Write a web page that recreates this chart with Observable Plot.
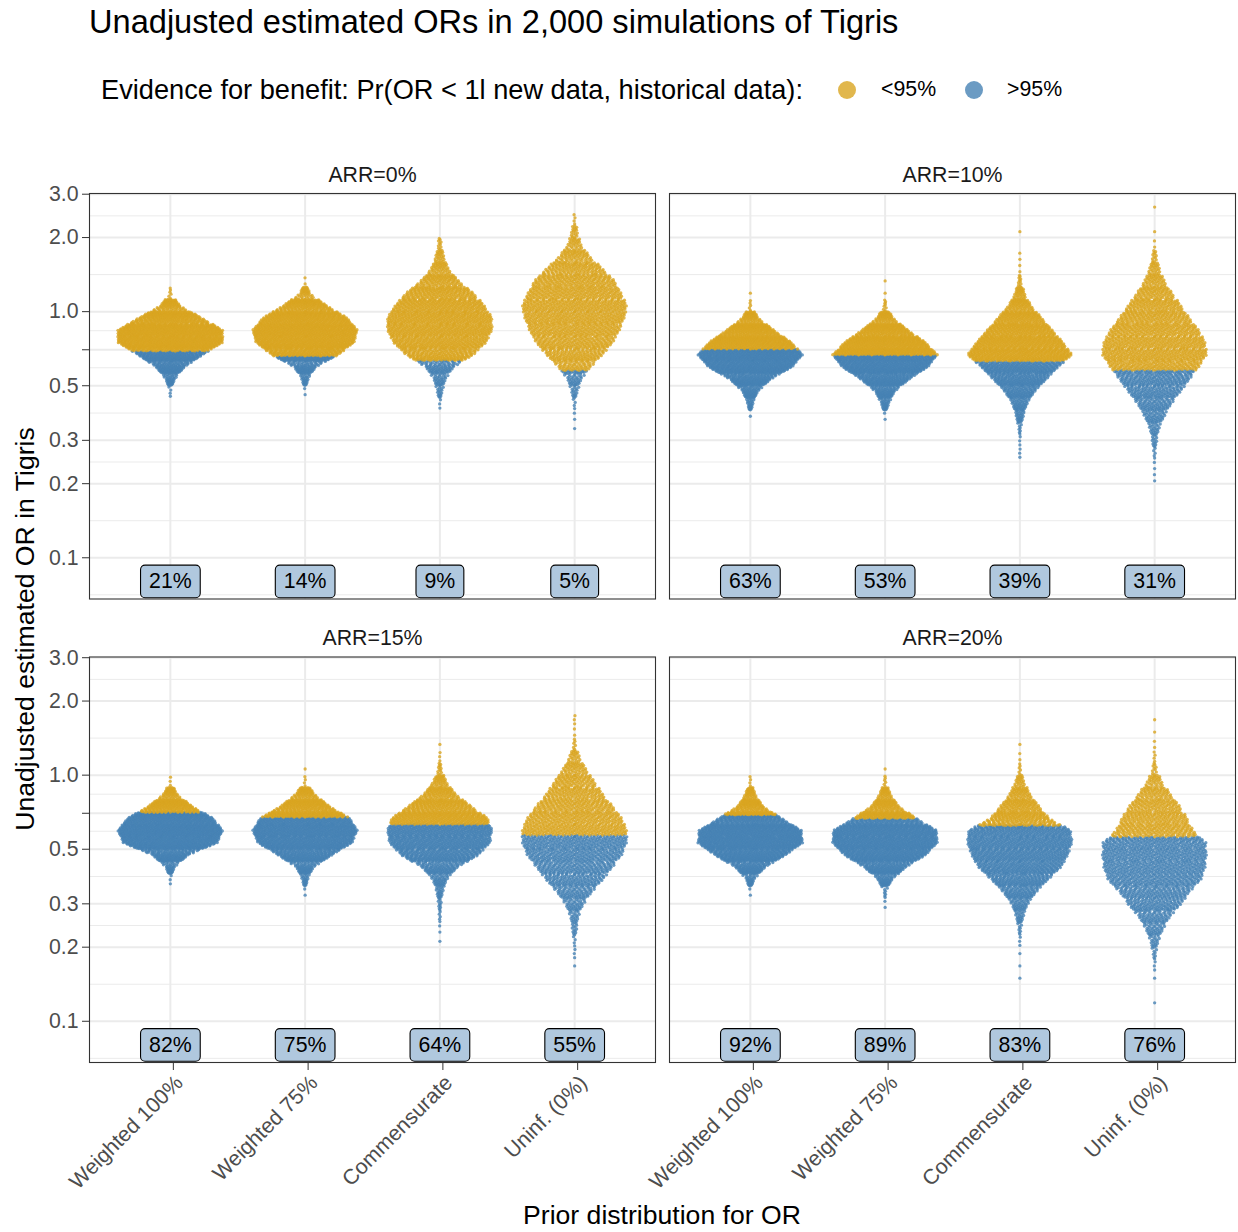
<!DOCTYPE html>
<html>
<head>
<meta charset="utf-8">
<script src="https://cdn.jsdelivr.net/npm/d3@7"></script>
<script src="https://cdn.jsdelivr.net/npm/@observablehq/plot@0.6"></script>
<style>
  body { margin: 0; background: #fff; font-family: 'Liberation Sans', Arial, Helvetica, sans-serif; }
  #header { position: relative; width: 1238px; height: 130px; }
  .t { position: absolute; white-space: nowrap; line-height: 1; color: #000; }
  .key { position: absolute; width: 18px; height: 18px; border-radius: 50%; }
</style>
</head>
<body>
<div id="header"></div>
<div id="chart"></div>
<script>
// ---------------- data ----------------
const chartTitle = "Unadjusted estimated ORs in 2,000 simulations of Tigris";
const legendTitle = "Evidence for benefit: Pr(OR < 1l new data, historical data):";
const evidenceLevels = ["<95%", ">95%"];
const evidenceColors = ["#DAA520", "#4682B4"];
const panelLabels = ["ARR=0%", "ARR=10%", "ARR=15%", "ARR=20%"];
const priors = ["Weighted 100%", "Weighted 75%", "Commensurate", "Uninf. (0%)"];
const yTicks = [0.1, 0.2, 0.3, 0.5, 0.7, 1.0, 2.0, 3.0];
const yAxisTitle = "Unadjusted estimated OR in Tigris";
const xAxisTitle = "Prior distribution for OR";

// % of simulations with Pr(OR<1) > 95%, per panel, per prior
const pctBenefit = [
  [21, 14, 9, 5],
  [63, 53, 39, 31],
  [82, 75, 64, 55],
  [92, 89, 83, 76]
];
// OR below which the evidence for benefit exceeds 95%
const thresholdOR = [
  [0.692, 0.661, 0.634, 0.577],
  [0.705, 0.667, 0.630, 0.579],
  [0.706, 0.675, 0.631, 0.571],
  [0.690, 0.667, 0.624, 0.562]
];
// histogram of the 2,000 estimated ORs: bins of width 0.05 in log10(OR),
// first bin's lower edge = firstBin * 0.05, counts listed from low OR to high OR
const binWidthLog10 = 0.05;
const firstBin = [
  [-7, -7, -8, -10],
  [-9, -9, -12, -14],
  [-9, -10, -14, -16],
  [-10, -11, -17, -19]
];
const countsARR0 = [
  [4, 46, 145, 329, 532, 532, 318, 98, 6],
  [2, 30, 99, 307, 451, 481, 387, 198, 45, 2],
  [3, 17, 38, 89, 213, 292, 329, 329, 281, 213, 120, 55, 27, 10],
  [1, 2, 4, 17, 37, 86, 148, 202, 237, 262, 274, 245, 211, 148, 80, 34, 17, 4]
];
const countsARR10 = [
  [1, 27, 76, 205, 421, 529, 416, 238, 81, 5, 1],
  [2, 36, 94, 234, 416, 510, 395, 224, 78, 8, 1, 1],
  [3, 3, 8, 29, 57, 115, 204, 294, 401, 331, 250, 168, 86, 37, 10, 2, 2, 0, 1],
  [2, 2, 5, 14, 26, 54, 90, 138, 185, 234, 276, 268, 234, 185, 140, 94, 54, 28, 12, 2, 1, 0, 1]
];
const countsARR15 = [
  [3, 44, 183, 488, 544, 444, 222, 67, 3],
  [2, 25, 79, 248, 436, 485, 416, 223, 84, 4, 1],
  [1, 2, 5, 10, 23, 51, 128, 280, 366, 381, 350, 226, 113, 47, 12, 3, 1],
  [1, 3, 4, 13, 21, 45, 87, 140, 186, 233, 257, 257, 233, 188, 138, 98, 58, 26, 6, 2, 3]
];
const countsARR20 = [
  [2, 37, 141, 340, 507, 497, 303, 120, 47, 4],
  [2, 8, 63, 183, 361, 467, 462, 279, 120, 48, 6, 1],
  [1, 1, 1, 3, 8, 24, 51, 105, 179, 260, 304, 331, 324, 186, 122, 64, 27, 6, 2, 1],
  [1, 0, 1, 3, 8, 20, 43, 76, 127, 167, 223, 243, 250, 248, 185, 157, 121, 76, 35, 10, 4, 2, 1, 1]
];
const labelOR = 0.08;

// ---------------- header (title + legend) ----------------
const header = document.getElementById("header");
function addText(txt, left, top, size) {
  const d = document.createElement("div");
  d.className = "t"; d.textContent = txt;
  d.style.left = left + "px"; d.style.top = top + "px"; d.style.fontSize = size + "px";
  header.appendChild(d);
}
function addKey(color, left, top) {
  const s = document.createElement("span");
  s.className = "key"; s.style.left = left + "px"; s.style.top = top + "px";
  s.style.background = color; s.style.opacity = 0.8;
  header.appendChild(s);
}
addText(chartTitle, 89, 6, 32.6);
addText(legendTitle, 101, 76, 27.2);
addKey(evidenceColors[0], 838, 81);
addText(evidenceLevels[0], 881, 79, 21.3);
addKey(evidenceColors[1], 965, 81);
addText(evidenceLevels[1], 1007, 79, 21.3);

// ---------------- quasirandom layout of the simulations ----------------
const allCounts = [countsARR0, countsARR10, countsARR15, countsARR20];
const halfWidth = 0.39;
function vdc(n) { let v = 0, d = 1; while (n > 0) { d *= 2; v += (n % 2) / d; n = Math.floor(n / 2); } return v; }
const dots = [];
allCounts.forEach((panelCounts, p) => panelCounts.forEach((counts, g) => {
  const k0 = firstBin[p][g];
  const M = d3.max(counts);
  const centers = counts.map((c, j) => (k0 + j + 0.5) * binWidthLog10);
  const env = t => {
    if (t <= centers[0]) return counts[0];
    if (t >= centers[centers.length - 1]) return counts[counts.length - 1];
    const j = Math.min(counts.length - 2, Math.floor((t - centers[0]) / binWidthLog10));
    const f = (t - centers[j]) / binWidthLog10;
    return counts[j] * (1 - f) + counts[j + 1] * f;
  };
  counts.forEach((n, j) => {
    for (let i = 0; i < n; i++) {
      const t = (k0 + j + (i + 0.5) / n) * binWidthLog10;
      const or = Math.pow(10, t);
      const hw = halfWidth * env(t) / M;
      dots.push({
        panel: p,
        x: g + 1 + (2 * vdc(i + 1) - 1) * hw,
        or,
        ev: or >= thresholdOR[p][g] ? evidenceLevels[0] : evidenceLevels[1]
      });
    }
  });
}));

const pctRows = [];
pctBenefit.forEach((row, p) => row.forEach((v, g) => pctRows.push({panel: p, g: g + 1, label: v + "%"})));
const panelRows = panelLabels.map((l, p) => ({panel: p, label: l}));

const logT = Math.log10;
const extMajors = [0.05, ...yTicks];
const minorBreaks = d3.pairs(extMajors).map(([a, b]) => Math.pow(10, (logT(a) + logT(b)) / 2));

const fxOf = d => d.panel % 2;
const fyOf = d => Math.floor(d.panel / 2);

const chart = Plot.plot({
  width: 1238, height: 1102,
  marginTop: 63, marginBottom: 170, marginLeft: 89, marginRight: 3,
  style: {fontFamily: "'Liberation Sans', Arial, Helvetica, sans-serif", fontSize: "21.3px", background: "#fff", overflow: "visible"},
  fx: {domain: [0, 1], axis: null, paddingInner: 14 / 580, paddingOuter: 0, round: false},
  fy: {domain: [0, 1], axis: null, paddingInner: 58 / 463.5, paddingOuter: 0, round: false},
  x: {domain: [0.4, 4.6]},
  y: {type: "log", domain: [0.068, 3.02]},
  color: {domain: evidenceLevels, range: evidenceColors},
  marks: [
    Plot.ruleY(minorBreaks, {stroke: "#EBEBEB", strokeWidth: 1}),
    Plot.ruleY(yTicks, {stroke: "#EBEBEB", strokeWidth: 2}),
    Plot.ruleX([1, 2, 3, 4], {stroke: "#EBEBEB", strokeWidth: 2}),
    Plot.dot(dots, {x: "x", y: "or", fx: fxOf, fy: fyOf, r: 1.65, fill: "ev", fillOpacity: 0.8}),
    Plot.text(pctRows, {x: "g", y: () => labelOR, text: "label", fx: fxOf, fy: fyOf, fontSize: 21.3, fill: "#000"}),
    Plot.frame({stroke: "#333333", strokeWidth: 1.1}),
    Plot.text(panelRows, {text: "label", fx: fxOf, fy: fyOf, frameAnchor: "top", dy: -27, fontSize: 21.3, fill: "#1A1A1A"}),
    Plot.axisY({ticks: yTicks, tickFormat: d3.format(".1f"), tickSize: 7, tickPadding: 4, fontSize: 21.3, fill: "#4D4D4D", stroke: "#333333", label: null}),
    Plot.axisX({ticks: [1, 2, 3, 4], tickFormat: d => priors[d - 1], tickSize: 8, tickPadding: 3, tickRotate: -45, textAnchor: "end", lineAnchor: "top", dx: 3, fontSize: 21.3, fill: "#4D4D4D", stroke: "#333333", label: null})
  ]
});
document.getElementById("chart").appendChild(chart);

// rounded label boxes behind the percentage labels
const NS = "http://www.w3.org/2000/svg";
d3.select(chart).selectAll("text").filter(function () { return /^\d+%$/.test(this.textContent); }).each(function () {
  const b = this.getBBox();
  const r = document.createElementNS(NS, "rect");
  r.setAttribute("x", b.x - 8.5); r.setAttribute("y", b.y - 4.3);
  r.setAttribute("width", b.width + 17); r.setAttribute("height", b.height + 8.6);
  r.setAttribute("rx", 4.5); r.setAttribute("ry", 4.5);
  r.setAttribute("fill", "#B0C8DE"); r.setAttribute("stroke", "#000"); r.setAttribute("stroke-width", 1.1);
  const tr = this.getAttribute("transform"); if (tr) r.setAttribute("transform", tr);
  this.parentNode.insertBefore(r, this);
});

// axis titles
const svg = d3.select(chart);
svg.append("text").attr("transform", "translate(25,499) rotate(-90)").attr("text-anchor", "middle").attr("dy", "0.35em")
  .attr("font-size", "26.6px").attr("fill", "#000").text(yAxisTitle);
svg.append("text").attr("x", 662).attr("y", 1094).attr("text-anchor", "middle")
  .attr("font-size", "26.6px").attr("fill", "#000").text(xAxisTitle);
</script>
</body>
</html>
